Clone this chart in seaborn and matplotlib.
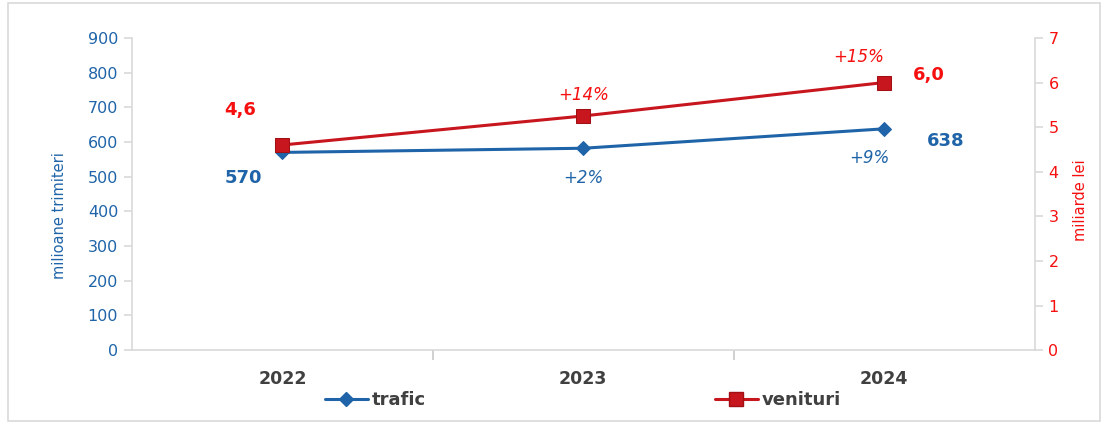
import matplotlib.pyplot as plt
import seaborn as sns
import pandas as pd
from matplotlib.patches import Rectangle
from matplotlib.lines import Line2D

ani = ["2022", "2023", "2024"]
trafic = [570, 582, 638]
venituri = [4.6, 5.25, 6.0]
etichete_trafic = ["570", "", "638"]
etichete_venituri = ["4,6", "", "6,0"]
crestere_trafic = ["", "+2%", "+9%"]
crestere_venituri = ["", "+14%", "+15%"]

albastru = "#1F64A8"
rosu_linie = "#C8161E"
rosu_text = "#F50F0F"
gri = "#D9D9D9"

sns.set_style("white")
plt.rcParams["font.family"] = ["DejaVu Sans"]

df = pd.DataFrame({"an": ani, "trafic": trafic, "venituri": venituri})
df["x"] = range(len(ani))

fig = plt.figure(figsize=(11.1, 4.26), dpi=100)
ax1 = fig.add_axes([0.119, 0.178, 0.813, 0.733])
ax2 = ax1.twinx()

sns.lineplot(data=df, x="x", y="trafic", ax=ax1, color=albastru, lw=2.2,
             marker="D", markersize=7, markeredgecolor=albastru)
sns.lineplot(data=df, x="x", y="venituri", ax=ax2, color=rosu_linie, lw=2.2,
             marker="s", markersize=10, markeredgecolor="#A01015")

ax1.set_xlim(-0.5, 2.5)
ax1.set_ylim(0, 900)
ax2.set_ylim(0, 7)
ax1.set_yticks(range(0, 901, 100))
ax2.set_yticks(range(0, 8))
ax1.set_xticks([0.5, 1.5])
ax1.set_xticklabels([])
ax1.set_xticks(df["x"], minor=True)
ax1.set_xticklabels(ani, minor=True, fontsize=12.5, fontweight="bold", color="#404040")
ax1.tick_params(axis="x", which="major", bottom=True, length=7, color="#C8C8C8",
                direction="out", width=1.2)
ax1.tick_params(axis="x", which="minor", bottom=True, length=0, pad=14)
ax1.tick_params(axis="y", left=True, length=6, color=gri, labelcolor=albastru,
                labelsize=11.5, pad=4, width=1.2)
ax2.tick_params(axis="y", right=True, length=6, color=gri, labelcolor=rosu_text,
                labelsize=11.5, pad=4, width=1.2)
ax1.set_xlabel("")
ax1.set_ylabel("milioane trimiteri", color=albastru, fontsize=10.5)
ax2.set_ylabel("miliarde lei", color=rosu_text, fontsize=10.5)
ax1.yaxis.set_label_coords(-0.072, 0.43)
ax2.yaxis.set_label_coords(1.043, 0.48)

for a in (ax1, ax2):
    for s in a.spines.values():
        s.set_color(gri)
        s.set_linewidth(1.2)
    a.spines["top"].set_visible(False)
ax1.spines["right"].set_visible(False)
ax2.spines["left"].set_visible(False)
ax2.spines["bottom"].set_visible(False)

# etichete valori
for i, t in enumerate(etichete_trafic):
    if t:
        dx, dy = (-39, -26) if i == 0 else (62, -12)
        ax1.annotate(t, (i, trafic[i]), xytext=(dx, dy), textcoords="offset pixels",
                     ha="center", va="center", color=albastru, fontsize=13, fontweight="bold")
for i, t in enumerate(etichete_venituri):
    if t:
        dx, dy = (-42, 35) if i == 0 else (45, 8)
        ax2.annotate(t, (i, venituri[i]), xytext=(dx, dy), textcoords="offset pixels",
                     ha="center", va="center", color=rosu_text, fontsize=13, fontweight="bold")
for i, t in enumerate(crestere_trafic):
    if t:
        dx, dy = (0, -30) if i == 1 else (-15, -29)
        ax1.annotate(t, (i, trafic[i]), xytext=(dx, dy), textcoords="offset pixels",
                     ha="center", va="center", color=albastru, fontsize=12, fontstyle="italic")
for i, t in enumerate(crestere_venituri):
    if t:
        dx, dy = (0, 21) if i == 1 else (-25, 26)
        ax2.annotate(t, (i, venituri[i]), xytext=(dx, dy), textcoords="offset pixels",
                     ha="center", va="center", color=rosu_text, fontsize=12, fontstyle="italic")

handles = [
    Line2D([], [], color=albastru, lw=2.2, marker="D", markersize=7),
    Line2D([], [], color=rosu_linie, lw=2.2, marker="s", markersize=10, markeredgecolor="#A01015"),
]
leg = fig.legend(handles, ["trafic", "venituri"], loc="center", bbox_to_anchor=(0.525, 0.06),
                 ncol=2, frameon=False, handlelength=2.4, handletextpad=0.2, columnspacing=16.0,
                 prop={"weight": "bold", "size": 13})
for txt in leg.get_texts():
    txt.set_color("#404040")

fig.patches.append(Rectangle((0.007, 0.012), 0.984, 0.98, transform=fig.transFigure,
                             fill=False, edgecolor=gri, lw=1.2))

fig.savefig("out.png", dpi=100)
